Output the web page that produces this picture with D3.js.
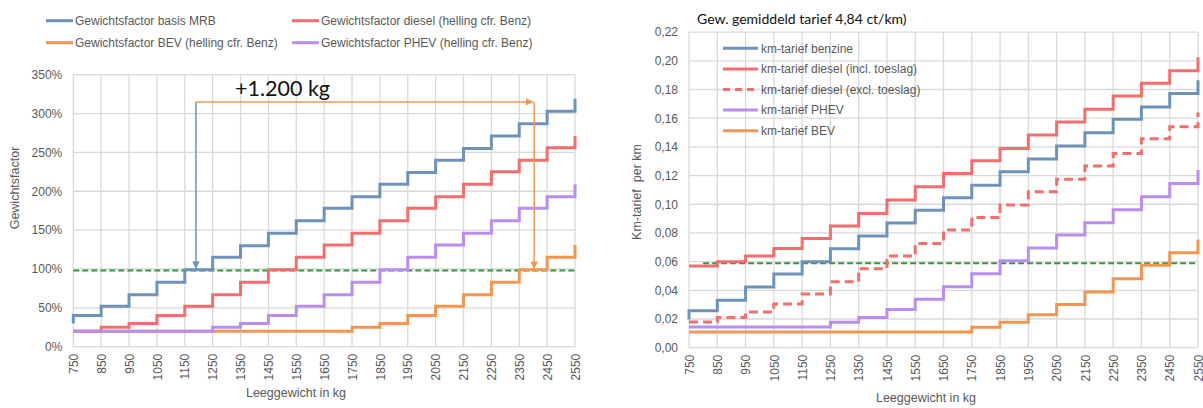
<!DOCTYPE html>
<html><head><meta charset="utf-8">
<script src="https://cdn.jsdelivr.net/npm/d3@7"></script>
<style>
html,body{margin:0;padding:0;background:#fff;}
text{font-family:"Liberation Sans",Arial,sans-serif;}
</style></head>
<body><svg id="c" width="1203" height="408"></svg>
<script>
// ---------- data ----------
const weights = [750,850,950,1050,1150,1250,1350,1450,1550,1650,1750,1850,1950,2050,2150,2250,2350,2450,2550];
const pctTicks = [0,50,100,150,200,250,300,350];
const kmTicks = [0,0.02,0.04,0.06,0.08,0.10,0.12,0.14,0.16,0.18,0.20,0.22];

// left chart: Gewichtsfactor (%)
const gfMRBStart = 30;
const gfMRB    = [40,52,67,83,99,115,130,146,162,178,193,209,224,240,255,271,287,303,319];
const gfDiesel = [20,25,30,40,52,67,83,99,115,131,146,162,178,193,209,225,240,256,271];
const gfBEV    = [20,20,20,20,20,20,20,20,20,20,25,30,40,52,67,83,99,115,131];
const gfPHEV   = [20,20,20,20,20,25,30,40,52,67,83,99,115,131,146,162,178,193,209];
const gfThreshold = 98;
const annFromKg = 1190, annToKg = 2400, annTopPct = 315, annBottomPct = 100;
const annLabel = "+1.200 kg";

// right chart: km-tarief
const kmBenzineStart = 0.0197;
const kmBenzine    = [0.0258,0.0330,0.0423,0.0513,0.0599,0.0690,0.0778,0.0869,0.0959,0.1045,0.1133,0.1226,0.1315,0.1406,0.1499,0.1592,0.1678,0.1772,0.1865];
const kmDieselIncl = [0.0569,0.0599,0.0639,0.0692,0.0762,0.0848,0.0936,0.1029,0.1122,0.1215,0.1303,0.1389,0.1482,0.1573,0.1662,0.1755,0.1844,0.1930,0.2024];
const kmDieselExcl = [0.0179,0.0211,0.0249,0.0304,0.0374,0.0460,0.0550,0.0639,0.0727,0.0820,0.0908,0.0994,0.1087,0.1175,0.1266,0.1354,0.1457,0.1541,0.1639];
const kmPHEV       = [0.0144,0.0144,0.0144,0.0144,0.0144,0.0177,0.0211,0.0267,0.0337,0.0425,0.0516,0.0606,0.0695,0.0785,0.0871,0.0962,0.1052,0.1145,0.1238];
const kmBEV        = [0.0109,0.0109,0.0109,0.0109,0.0109,0.0109,0.0109,0.0109,0.0109,0.0109,0.0142,0.0177,0.0230,0.0302,0.0388,0.0481,0.0574,0.0662,0.0755];
const kmThreshold = 0.0588, kmThresholdFrom = 800;
const rightTitle = "Gew. gemiddeld tarief 4,84 ct/km)";

const colors = {blue:"#6d93ba", red:"#f46e6e", orange:"#f39650", purple:"#b98ef0", green:"#2f9a3c"};

// ---------- drawing ----------
const svg = d3.select("#c");
svg.append("rect").attr("width",1203).attr("height",408).attr("fill","#fff");
const grey = "#595959", gridC = "#d9d9d9";

const defs = svg.append("defs");
function marker(id, color){
  defs.append("marker").attr("id",id).attr("viewBox","0 0 10 10").attr("refX",10).attr("refY",5)
    .attr("markerWidth",5).attr("markerHeight",5).attr("orient","auto")
    .append("path").attr("d","M0,0L10,5L0,10Z").attr("fill",color);
}
marker("ab", colors.blue); marker("ao", colors.orange);

function series(start, vals){
  const pts = [];
  if (start !== null) pts.push([weights[0], start]);
  vals.forEach((v,i)=>pts.push([weights[i], v]));
  return pts;
}

function panel(o){
  const g = svg.append("g");
  const x = d3.scaleLinear().domain([750,2550]).range([o.x0,o.x1]);
  const y = d3.scaleLinear().domain(o.ydom).range([o.y0,o.y1]);
  g.selectAll(".gx").data(weights).enter().append("line")
    .attr("x1",d=>x(d)).attr("x2",d=>x(d)).attr("y1",o.y0).attr("y2",o.y1)
    .attr("stroke",gridC).attr("stroke-width",1.3);
  g.selectAll(".gy").data(o.yticks).enter().append("line")
    .attr("x1",o.x0).attr("x2",o.x1).attr("y1",d=>y(d)).attr("y2",d=>y(d))
    .attr("stroke",gridC).attr("stroke-width",1.3);
  const ya = d3.axisLeft(y).tickValues(o.yticks).tickFormat(o.yfmt).tickSize(0).tickPadding(11);
  const yg = g.append("g").attr("transform",`translate(${o.x0},0)`).call(ya);
  yg.select(".domain").remove();
  yg.selectAll("text").attr("fill",grey).style("font-size","12px");
  const xa = d3.axisBottom(x).tickValues(weights).tickFormat(d=>String(d)).tickSize(0);
  const xg = g.append("g").attr("transform",`translate(0,${o.y0})`).call(xa);
  xg.select(".domain").remove();
  xg.selectAll("text").attr("fill",grey).style("font-size","12px")
    .attr("transform","translate(0,7) rotate(-90)").attr("text-anchor","end")
    .attr("x",0).attr("y",0).attr("dy","0.35em");
  return {g,x,y};
}

// ---- left ----
const L = panel({x0:73.3,x1:575,y0:346.7,y1:74.7,ydom:[0,350],yticks:pctTicks,yfmt:d=>d+"%"});
const line = (P)=>d3.line().x(d=>P.x(d[0])).y(d=>P.y(d[1])).curve(d3.curveStepAfter);
L.g.append("line").attr("x1",L.x(750)).attr("x2",L.x(2550)).attr("y1",L.y(gfThreshold)).attr("y2",L.y(gfThreshold))
  .attr("stroke",colors.green).attr("stroke-width",2).attr("stroke-dasharray","6,3");
[[gfMRBStart,gfMRB,colors.blue],[null,gfDiesel,colors.red],[null,gfBEV,colors.orange],[null,gfPHEV,colors.purple]]
  .forEach(([s,v,c])=>{
    L.g.append("path").attr("d",line(L)(series(s,v))).attr("fill","none").attr("stroke",c).attr("stroke-width",3);
  });
L.g.append("line").attr("x1",L.x(annFromKg)).attr("x2",L.x(annFromKg)).attr("y1",L.y(annTopPct)).attr("y2",L.y(annBottomPct))
  .attr("stroke",colors.blue).attr("stroke-width",1.5).attr("marker-end","url(#ab)");
L.g.append("line").attr("x1",L.x(annFromKg)).attr("x2",L.x(annToKg)).attr("y1",L.y(annTopPct)).attr("y2",L.y(annTopPct))
  .attr("stroke",colors.orange).attr("stroke-width",1.5).attr("marker-end","url(#ao)");
L.g.append("line").attr("x1",L.x(annToKg)+1).attr("x2",L.x(annToKg)+1).attr("y1",L.y(annTopPct)).attr("y2",L.y(annBottomPct))
  .attr("stroke",colors.orange).attr("stroke-width",1.5).attr("marker-end","url(#ao)");
L.g.append("text").attr("x",235).attr("y",96).text(annLabel)
  .style("font-family","Lato, 'Open Sans', sans-serif").style("font-size","21.5px").attr("fill","#111");
svg.append("text").attr("transform","translate(19,188) rotate(-90)").attr("text-anchor","middle")
  .attr("fill",grey).style("font-size","12.5px").text("Gewichtsfactor");
svg.append("text").attr("x",296).attr("y",397).attr("text-anchor","middle")
  .attr("fill",grey).style("font-size","12.5px").text("Leeggewicht in kg");
const legL = [["Gewichtsfactor basis MRB",colors.blue,46,20.7],["Gewichtsfactor diesel (helling cfr. Benz)",colors.red,292,20.7],
              ["Gewichtsfactor BEV (helling cfr. Benz)",colors.orange,46,42.7],["Gewichtsfactor PHEV (helling cfr. Benz)",colors.purple,292,42.7]];
legL.forEach(([t,c,x0,y0])=>{
  svg.append("line").attr("x1",x0).attr("x2",x0+27).attr("y1",y0).attr("y2",y0).attr("stroke",c).attr("stroke-width",3);
  svg.append("text").attr("x",x0+29).attr("y",y0).attr("dy","0.35em").attr("fill",grey).style("font-size","12px").text(t);
});

// ---- right ----
const R = panel({x0:689,x1:1198,y0:347.7,y1:32.1,ydom:[0,0.22],yticks:kmTicks,yfmt:d=>d3.format(".2f")(d).replace(".",",")});
R.g.append("line").attr("x1",R.x(kmThresholdFrom)).attr("x2",R.x(2550)).attr("y1",R.y(kmThreshold)).attr("y2",R.y(kmThreshold))
  .attr("stroke",colors.green).attr("stroke-width",2).attr("stroke-dasharray","6,3");
const rs = [
  ["km-tarief benzine",kmBenzineStart,kmBenzine,colors.blue,null],
  ["km-tarief diesel (incl. toeslag)",null,kmDieselIncl,colors.red,null],
  ["km-tarief diesel (excl. toeslag)",null,kmDieselExcl,colors.red,"9,5"],
  ["km-tarief PHEV",null,kmPHEV,colors.purple,null],
  ["km-tarief BEV",null,kmBEV,colors.orange,null]];
rs.forEach(([t,s,v,c,da],i)=>{
  const p = R.g.append("path").attr("d",line(R)(series(s,v))).attr("fill","none").attr("stroke",c).attr("stroke-width",3);
  if (da) p.attr("stroke-dasharray",da);
  const yy = 48.3 + i*20.6;
  const l = svg.append("line").attr("x1",723).attr("x2",758).attr("y1",yy).attr("y2",yy).attr("stroke",c).attr("stroke-width",3);
  if (da) l.attr("stroke-dasharray","7,5");
  svg.append("text").attr("x",761).attr("y",yy).attr("dy","0.35em").attr("fill",grey).style("font-size","12px").text(t);
});
svg.append("text").attr("x",697).attr("y",24).text(rightTitle)
  .style("font-family","Lato, 'Open Sans', sans-serif").style("font-size","14px").attr("fill","#111");
svg.append("text").attr("transform","translate(641,192) rotate(-90)").attr("text-anchor","middle")
  .attr("fill",grey).style("font-size","12.5px").style("white-space","pre").text("Km-tarief  per km");
svg.append("text").attr("x",926).attr("y",402).attr("text-anchor","middle")
  .attr("fill",grey).style("font-size","12.5px").text("Leeggewicht in kg");
</script></body></html>
